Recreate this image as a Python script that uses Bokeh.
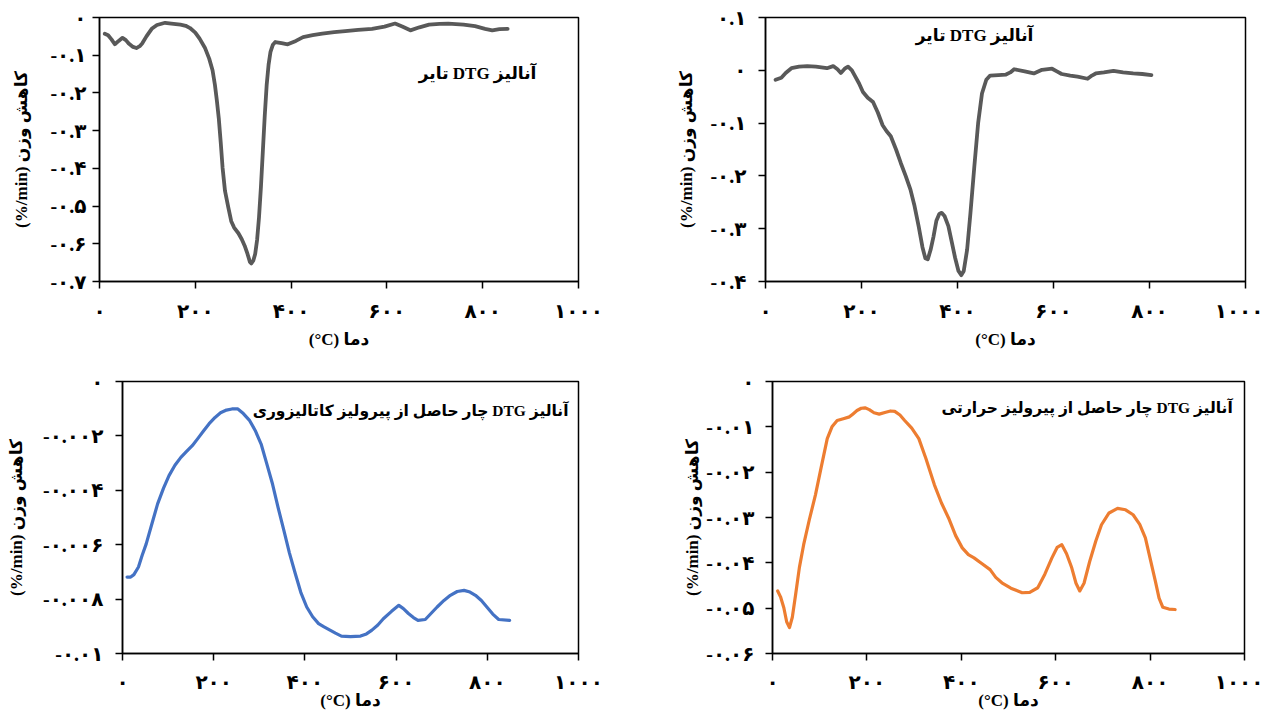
from bokeh.plotting import figure
from bokeh.layouts import column, row
from bokeh.models import Range1d, FixedTicker, CustomJSTickFormatter, Label
from bokeh.embed import file_html
from bokeh.resources import INLINE

# ---------------- data ----------------
# Panel 1: DTG of tyre (first measurement)
temp1 = [11, 18, 25, 32, 40, 48, 55, 61, 70, 77, 84, 89, 98, 109, 120, 137, 150, 169, 180, 189,
         200, 209, 220, 229, 236, 241, 245, 249, 253, 257, 262, 269, 275, 281, 290, 297, 303,
         309, 314, 317, 321, 325, 329, 333, 337, 341, 345, 349, 353, 357, 362, 367, 380, 393,
         410, 425, 445, 465, 490, 513, 540, 569, 595, 617, 632, 649, 668, 688, 710, 728, 760,
         784, 805, 820, 835, 852]
dtg1 = [-0.043, -0.047, -0.058, -0.071, -0.062, -0.054, -0.060, -0.069, -0.078, -0.081, -0.076,
        -0.069, -0.050, -0.030, -0.020, -0.014, -0.016, -0.019, -0.022, -0.028, -0.040, -0.056,
        -0.080, -0.109, -0.140, -0.179, -0.220, -0.267, -0.330, -0.399, -0.460, -0.504, -0.540,
        -0.557, -0.572, -0.588, -0.605, -0.627, -0.648, -0.652, -0.645, -0.627, -0.590, -0.530,
        -0.450, -0.355, -0.260, -0.179, -0.125, -0.091, -0.072, -0.065, -0.068, -0.071, -0.062,
        -0.052, -0.047, -0.043, -0.039, -0.036, -0.033, -0.030, -0.024, -0.016, -0.024, -0.034,
        -0.026, -0.019, -0.017, -0.016, -0.019, -0.023, -0.030, -0.034, -0.031, -0.030]

# Panel 2: DTG of tyre (second measurement)
temp2 = [21, 27, 33, 42, 54, 70, 87, 105, 128, 141, 150, 157, 165, 172, 180, 186, 195, 203, 213,
         224, 234, 244, 252, 261, 272, 282, 292, 302, 310, 319, 327, 333, 338, 344, 350, 356,
         362, 367, 373, 381, 388, 395, 402, 408, 413, 420, 427, 435, 443, 451, 460, 468, 485,
         501, 510, 518, 540, 559, 576, 597, 607, 617, 635, 650, 671, 680, 688, 705, 725, 745,
         766, 785, 804]
dtg2 = [-0.018, -0.016, -0.014, -0.005, 0.004, 0.007, 0.008, 0.007, 0.004, 0.008, 0.002, -0.005,
        0.003, 0.007, 0.000, -0.010, -0.025, -0.041, -0.052, -0.060, -0.080, -0.104, -0.115,
        -0.125, -0.150, -0.176, -0.200, -0.226, -0.255, -0.295, -0.335, -0.356, -0.358, -0.340,
        -0.315, -0.285, -0.272, -0.270, -0.276, -0.295, -0.325, -0.355, -0.380, -0.388, -0.380,
        -0.340, -0.270, -0.183, -0.100, -0.044, -0.018, -0.010, -0.009, -0.008, -0.004, 0.002,
        -0.002, -0.006, 0.001, 0.003, -0.002, -0.007, -0.010, -0.012, -0.016, -0.010, -0.006,
        -0.004, -0.001, -0.004, -0.006, -0.007, -0.009]

# Panel 3: DTG of char from catalytic pyrolysis
temp3 = [10, 18, 25, 35, 43, 52, 65, 77, 90, 102, 115, 128, 140, 153, 165, 178, 190, 203, 215,
         228, 240, 253, 265, 279, 291, 304, 316, 329, 341, 354, 366, 379, 391, 404, 417, 430,
         442, 455, 467, 480, 500, 522, 535, 547, 560, 572, 590, 606, 616, 627, 638, 648, 664,
         677, 690, 705, 719, 734, 749, 762, 774, 787, 799, 812, 825, 849]
dtg3 = [-0.00719, -0.00719, -0.00710, -0.00682, -0.00640, -0.00597, -0.00520, -0.00450,
        -0.00392, -0.00346, -0.00308, -0.00279, -0.00258, -0.00236, -0.00210, -0.00181,
        -0.00155, -0.00132, -0.00115, -0.00105, -0.00101, -0.00101, -0.00118, -0.00144,
        -0.00180, -0.00230, -0.00300, -0.00377, -0.00462, -0.00548, -0.00630, -0.00707,
        -0.00775, -0.00829, -0.00865, -0.00890, -0.00902, -0.00914, -0.00925, -0.00936,
        -0.00938, -0.00936, -0.00928, -0.00914, -0.00895, -0.00872, -0.00845, -0.00823,
        -0.00835, -0.00853, -0.00868, -0.00878, -0.00875, -0.00852, -0.00829, -0.00805,
        -0.00786, -0.00772, -0.00768, -0.00774, -0.00786, -0.00805, -0.00829, -0.00855,
        -0.00875, -0.00878]

# Panel 4: DTG of char from thermal pyrolysis
temp4 = [11, 17, 24, 30, 36, 42, 49, 57, 66, 78, 91, 103, 116, 126, 137, 150, 163, 170, 179, 188,
         196, 205, 215, 226, 240, 250, 259, 270, 280, 295, 310, 325, 343, 358, 373, 388, 402,
         415, 427, 444, 461, 473, 486, 505, 529, 545, 562, 577, 592, 603, 613, 623, 634, 643,
         651, 660, 672, 685, 697, 713, 731, 748, 764, 778, 790, 800, 811, 819, 827, 840, 853]
dtg4 = [-0.0462, -0.0475, -0.0499, -0.0530, -0.0543, -0.0520, -0.0470, -0.0410, -0.0360,
        -0.0305, -0.0250, -0.0190, -0.0126, -0.0100, -0.0086, -0.0082, -0.0078, -0.0072,
        -0.0064, -0.0059, -0.0058, -0.0062, -0.0069, -0.0072, -0.0068, -0.0065, -0.0066,
        -0.0074, -0.0086, -0.0103, -0.0126, -0.0170, -0.0228, -0.0268, -0.0301, -0.0340,
        -0.0367, -0.0382, -0.0389, -0.0402, -0.0415, -0.0432, -0.0444, -0.0456, -0.0466,
        -0.0465, -0.0455, -0.0425, -0.0389, -0.0366, -0.0360, -0.0380, -0.0411, -0.0445,
        -0.0462, -0.0445, -0.0397, -0.0352, -0.0316, -0.0290, -0.0280, -0.0283, -0.0294,
        -0.0315, -0.0345, -0.0390, -0.0440, -0.0478, -0.0498, -0.0502, -0.0503]

# ticks and labels
x_ticks = [0, 200, 400, 600, 800, 1000]
x_tick_labels = ["۰", "۲۰۰", "۴۰۰", "۶۰۰", "۸۰۰", "۱۰۰۰"]
y1_ticks = [0, -0.1, -0.2, -0.3, -0.4, -0.5, -0.6, -0.7]
y1_tick_labels = ["۰", "-۰.۱", "-۰.۲", "-۰.۳", "-۰.۴", "-۰.۵", "-۰.۶", "-۰.۷"]
y2_ticks = [0.1, 0, -0.1, -0.2, -0.3, -0.4]
y2_tick_labels = ["۰.۱", "۰", "-۰.۱", "-۰.۲", "-۰.۳", "-۰.۴"]
y3_ticks = [0, -0.002, -0.004, -0.006, -0.008, -0.01]
y3_tick_labels = ["۰", "-۰.۰۰۲", "-۰.۰۰۴", "-۰.۰۰۶", "-۰.۰۰۸", "-۰.۰۱"]
y4_ticks = [0, -0.01, -0.02, -0.03, -0.04, -0.05, -0.06]
y4_tick_labels = ["۰", "-۰.۰۱", "-۰.۰۲", "-۰.۰۳", "-۰.۰۴", "-۰.۰۵", "-۰.۰۶"]

x_title = "(°C) دما"
y_title = "(%/min) کاهش وزن"
title1 = "آنالیز DTG تایر"
title2 = "آنالیز DTG تایر"
title3 = "آنالیز DTG چار حاصل از پیرولیز کاتالیزوری"
title4 = "آنالیز DTG چار حاصل از پیرولیز حرارتی"

FONT = "Liberation Serif, DejaVu Sans"

FMT_CODE = """
let best = 0; let d = Infinity;
for (let i = 0; i < vals.length; i++) {
  const e = Math.abs(vals[i] - tick);
  if (e < d) { d = e; best = i; }
}
return labs[best];
"""


def panel(xs, ys, color, lw, yr, yticks, ylabels, title, tx, ty, tsize,
          width, height, bl, br, bt, bb, ystand, ytitle_stand, xstand, xtitle_stand):
    p = figure(width=width, height=height, output_backend="svg", toolbar_location=None,
               x_range=Range1d(0, 1000), y_range=Range1d(*yr))
    p.min_border_left = bl
    p.min_border_right = br
    p.min_border_top = bt
    p.min_border_bottom = bb
    p.grid.visible = False
    p.outline_line_color = "black"
    p.outline_line_width = 1.5
    p.background_fill_color = "white"
    p.border_fill_color = "white"

    p.line(xs, ys, line_color=color, line_width=lw, line_join="round", line_cap="round")

    for ax, ticks, labels in ((p.xaxis[0], x_ticks, x_tick_labels), (p.yaxis[0], yticks, ylabels)):
        ax.ticker = FixedTicker(ticks=ticks)
        ax.formatter = CustomJSTickFormatter(args=dict(vals=ticks, labs=labels), code=FMT_CODE)
        ax.major_tick_out = 7
        ax.major_tick_in = 0
        ax.minor_tick_out = 0
        ax.minor_tick_in = 0
        ax.major_tick_line_color = "black"
        ax.major_tick_line_width = 1.5
        ax.axis_line_color = "black"
        ax.axis_line_width = 1.5
        ax.major_label_text_font = FONT
        ax.major_label_text_font_style = "bold"
        ax.major_label_text_font_size = "20px"
        ax.major_label_text_color = "black"
        ax.axis_label_text_font = FONT
        ax.axis_label_text_font_style = "bold"
        ax.axis_label_text_font_size = "17px"
        ax.axis_label_text_color = "black"

    p.xaxis[0].axis_label = x_title
    p.xaxis[0].major_label_standoff = xstand
    p.xaxis[0].axis_label_standoff = xtitle_stand
    p.yaxis[0].axis_label = y_title
    p.yaxis[0].major_label_standoff = ystand
    p.yaxis[0].axis_label_standoff = ytitle_stand

    p.add_layout(Label(x=tx, y=ty, text="\u202b" + title + "\u202c", text_align="right",
                       text_baseline="middle", text_font=FONT, text_font_style="bold",
                       text_font_size=tsize, text_color="black"))
    return p


p1 = panel(temp1, dtg1, "#595959", 3.8, (-0.7, 0), y1_ticks, y1_tick_labels, title1, 912, -0.149,
           "17px", 640, 360, 99, 62, 15, 79, 6, 16, 11, 5)
p2 = panel(temp2, dtg2, "#595959", 3.8, (-0.4, 0.1), y2_ticks, y2_tick_labels, title2, 558, 0.0655,
           "17px", 623, 360, 125, 18, 17, 78, 12, 11, 11, 5)
p3 = panel(temp3, dtg3, "#4472C4", 3.2, (-0.01, 0), y3_ticks, y3_tick_labels, title3, 978, -0.00108,
           "15.5px", 640, 353, 122, 62, 21, 60, 12, 14, 10, -5)
p4 = panel(temp4, dtg4, "#ED7D31", 3.2, (-0.06, 0), y4_ticks, y4_tick_labels, title4, 975, -0.00564,
           "15.5px", 623, 353, 132, 19, 19, 60, 11, 1, 10, -5)

layout = column(row(p1, p2), row(p3, p4))
open("out.html", "w").write(file_html(layout, INLINE))
